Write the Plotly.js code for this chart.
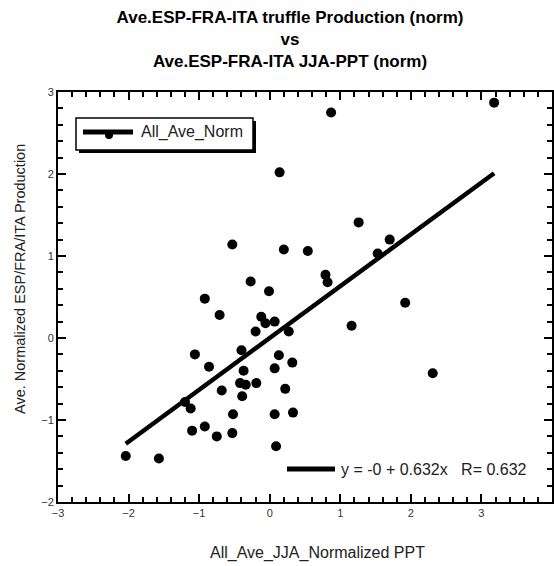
<!DOCTYPE html>
<html>
<head>
<meta charset="utf-8">
<script src="https://cdn.plot.ly/plotly-3.0.1.min.js"></script>
<style>
  html, body { margin: 0; padding: 0; background: #fff; }
  #chart { width: 554px; height: 566px; }
</style>
</head>
<body>
<div id="chart"></div>
<script>
// Normalized summer (JJA) precipitation vs normalized truffle production
const pptNorm = [
  0.14, -0.53, 0.20, 0.54, -0.27, -0.01, -0.92, 0.87, 3.18, 1.26,
  1.70, 1.53, 0.79, 0.82, 1.92, -0.71, -0.12, -0.06, 0.07, -0.20,
  0.27, -0.40, -1.06, 0.13, -0.86, -0.37, 0.07, 0.32, -0.42, -0.34,
  -0.19, -0.68, 0.22, -0.39, -1.12, -1.20, -0.52, 0.07, 0.33, -1.10,
  -0.92, -0.75, -0.53, 0.09, -2.04, -1.57, 1.16, 2.31
];
const prodNorm = [
  2.02, 1.14, 1.08, 1.06, 0.69, 0.57, 0.48, 2.75, 2.87, 1.41,
  1.20, 1.03, 0.77, 0.68, 0.43, 0.28, 0.26, 0.18, 0.20, 0.08,
  0.08, -0.15, -0.20, -0.21, -0.35, -0.40, -0.37, -0.30, -0.55, -0.57,
  -0.55, -0.64, -0.62, -0.71, -0.86, -0.78, -0.93, -0.93, -0.91, -1.13,
  -1.08, -1.20, -1.16, -1.32, -1.44, -1.47, 0.15, -0.43
];

// Least-squares fit as reported on the chart
const fitSlope = 0.632;
const fitIntercept = 0;
const fitInterceptLabel = "-0";
const fitR = 0.632;

const seriesName = "All_Ave_Norm";
const xTitle = "All_Ave_JJA_Normalized PPT";
const yTitle = "Ave. Normalized ESP/FRA/ITA Production";
const titleLines = [
  "Ave.ESP-FRA-ITA truffle Production (norm)",
  "vs",
  "Ave.ESP-FRA-ITA JJA-PPT (norm)"
];

const xMin = Math.min(...pptNorm);
const xMax = Math.max(...pptNorm);
const fitX = [xMin, xMax];
const fitY = fitX.map(v => fitIntercept + fitSlope * v);

const FONT = "Liberation Sans, Arial, Helvetica, sans-serif";
const W = 554, H = 566;
const M = { l: 58, r: 2, t: 92, b: 64 };
const PW = W - M.l - M.r, PH = H - M.t - M.b;
// pixel position -> paper coordinates
const px = x => (x - M.l) / PW;
const py = y => (H - M.b - y) / PH;

const traces = [
  {
    x: pptNorm, y: prodNorm, type: "scatter", mode: "markers",
    name: seriesName, showlegend: false,
    marker: { color: "#000", size: 10 }
  },
  {
    x: fitX, y: fitY, type: "scatter", mode: "lines",
    showlegend: false,
    line: { color: "#000", width: 4.5 }
  }
];

const axisCommon = {
  showgrid: false, zeroline: false,
  showline: true, linecolor: "#000", linewidth: 2,
  mirror: "allticks",
  ticks: "inside", ticklen: 8, tickwidth: 2, tickcolor: "#000",
  dtick: 1,
  tickfont: { family: FONT, size: 11, color: "#333" },
  minor: { dtick: 0.2, ticks: "inside", ticklen: 5, tickwidth: 2, tickcolor: "#000" }
};

const shapes = [
  // series key box with drop shadow
  { type: "rect", xref: "paper", yref: "paper",
    x0: px(79), x1: px(256), y0: py(121), y1: py(153),
    fillcolor: "#000", line: { width: 0 } },
  { type: "rect", xref: "paper", yref: "paper",
    x0: px(76), x1: px(253), y0: py(118), y1: py(150),
    fillcolor: "#fff", line: { color: "#000", width: 1.5 } },
  { type: "circle", xref: "paper", yref: "paper",
    x0: px(105), x1: px(113), y0: py(131), y1: py(139),
    fillcolor: "#000", line: { width: 0 } },
  { type: "line", xref: "paper", yref: "paper",
    x0: px(83), x1: px(133), y0: py(132), y1: py(132),
    line: { color: "#000", width: 5 } },
  // fit key
  { type: "line", xref: "paper", yref: "paper",
    x0: px(287), x1: px(335), y0: py(469), y1: py(469),
    line: { color: "#000", width: 5 } }
];

const nb = "\u00a0";
const fitLabel = `y = ${fitInterceptLabel} + ${fitSlope}x${nb}${nb}${nb}R= ${fitR}`;

const annotations = [
  { text: xTitle, xref: "paper", yref: "paper", x: px(317), y: py(553),
    showarrow: false, xanchor: "center", yanchor: "middle",
    font: { family: FONT, size: 16, color: "#222" } },
  { text: yTitle, xref: "paper", yref: "paper", x: px(20), y: py(279),
    showarrow: false, xanchor: "center", yanchor: "middle", textangle: -90,
    font: { family: FONT, size: 14.5, color: "#222" } },
  { text: seriesName, xref: "paper", yref: "paper", x: px(139), y: py(132),
    showarrow: false, xanchor: "left", yanchor: "middle",
    font: { family: FONT, size: 16, color: "#222" } },
  { text: fitLabel, xref: "paper", yref: "paper", x: px(339), y: py(469),
    showarrow: false, xanchor: "left", yanchor: "middle",
    font: { family: FONT, size: 16, color: "#222" } }
];

const layout = {
  width: W, height: H,
  margin: M,
  paper_bgcolor: "#fff", plot_bgcolor: "#fff",
  showlegend: false,
  title: {
    text: titleLines.join("<br>"),
    x: 290 / W, xref: "container", xanchor: "center",
    y: 1 - 23 / H, yref: "container", yanchor: "middle",
    font: { family: FONT, size: 17, color: "#000", weight: "bold" }
  },
  xaxis: Object.assign({}, axisCommon, { range: [-3, 4] }),
  yaxis: Object.assign({}, axisCommon, { range: [-2, 3] }),
  shapes: shapes,
  annotations: annotations
};

Plotly.newPlot("chart", traces, layout, { displayModeBar: false });
</script>
</body>
</html>
